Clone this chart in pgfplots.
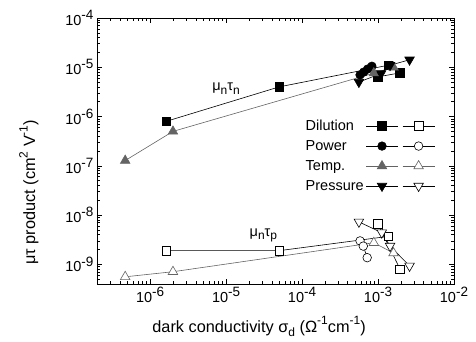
\documentclass[border=0pt]{standalone}
\usepackage{fontspec}
\setmainfont{Liberation Sans}
\usepackage{pgfplots}
\pgfplotsset{compat=1.18}
\definecolor{tgray}{RGB}{100,100,100}
\newcommand{\ff}{\fontsize{14.5}{17}\selectfont}
\newcommand{\tf}{\fontsize{14.5}{17}\selectfont}
\newcommand{\lf}{\fontsize{16.3}{19}\selectfont}
\newcommand{\sups}[1]{\raisebox{0.45em}{\fontsize{12}{13}\selectfont #1}}
\newcommand{\tsups}[1]{\raisebox{0.4em}{\fontsize{13.5}{14}\selectfont #1}}
\newcommand{\subs}[1]{\raisebox{-0.25em}{\fontsize{12}{13}\selectfont #1}}
\begin{document}
\begin{tikzpicture}[font=\ff]
\begin{axis}[
  at={(0,0)}, anchor=south west,
  scale only axis, width=357pt, height=266pt,
  xmode=log, ymode=log,
  xmin=2e-7, xmax=1e-2, ymin=4e-10, ymax=1e-4,
  tick label style={font=\tf},
  label style={font=\lf},
  axis line style={line width=0.8pt},
  major tick length=5pt, minor tick length=3pt,
  every tick/.style={black, line width=0.6pt},
  tick align=inside,
  log number format basis/.code 2 args={10\tsups{\pgfmathprintnumber[assume math mode=true]{#2}}},
  xlabel={dark conductivity σ\subs{d} (Ω\sups{-1}cm\sups{-1})},
  ylabel={μτ product (cm\sups{2} V\sups{-1})},
  xlabel style={at={(axis description cs:0.454,0)}, anchor=north, yshift=-29pt},
  ylabel style={at={(axis description cs:0,0.345)}, anchor=south, yshift=55pt},
  legend columns=2, legend plot pos=right, legend cell align=left,
  legend style={at={(rel axis cs:0.57,0.633)}, anchor=north west, draw=none, fill=none,
     font=\ff, row sep=4.5pt, column sep=0pt},
  legend image code/.code={\draw[mark repeat=2,mark phase=2] plot coordinates {(0pt,0pt)(16pt,0pt)(32pt,0pt)};},
]
% mu_n tau_n (filled)
\addplot[black, line width=0.6pt, mark=square*, mark size=4.3pt, mark options={solid, fill=black}, forget plot] coordinates {
(1.63e-6,8.0e-7) (5e-5,4.0e-6) (1.36e-3,1.1e-5) (1.0e-3,6.4e-6) (1.95e-3,7.7e-6)};
\addplot[black, line width=0.6pt, mark=*, mark size=4.3pt, mark options={solid, fill=black}, forget plot] coordinates {
(5.8e-4,7.0e-6) (6.5e-4,8.0e-6) (7.3e-4,9.2e-6) (8.3e-4,1.05e-5)};
\addplot[tgray, line width=0.6pt, mark=triangle*, mark size=5.5pt, mark options={solid, fill=tgray, draw=tgray}, forget plot] coordinates {
(4.7e-7,1.28e-7) (2.0e-6,5.0e-7) (8.8e-4,7.6e-6) (1.6e-3,1.0e-5)};
\addplot[black, line width=0.6pt, mark=triangle*, mark size=5.5pt, mark options={solid, fill=black, rotate=180}, forget plot] coordinates {
(5.6e-4,5.0e-6) (1.1e-3,7.5e-6) (1.44e-3,1.1e-5) (2.6e-3,1.42e-5)};
% mu_n tau_p (open)
\addplot[black, line width=0.6pt, mark=square*, mark size=4.3pt, mark options={solid, fill=white}, forget plot] coordinates {
(1.63e-6,1.9e-9) (5e-5,1.9e-9) (1.36e-3,3.7e-9) (1.0e-3,6.6e-9) (1.95e-3,8.0e-10)};
\addplot[black, line width=0.6pt, mark=*, mark size=4.3pt, mark options={solid, fill=white}, forget plot] coordinates {
(5.8e-4,3.0e-9) (6.4e-4,2.35e-9) (7.2e-4,1.37e-9)};
\addplot[tgray, line width=0.6pt, mark=triangle*, mark size=5.5pt, mark options={solid, fill=white, draw=tgray}, forget plot] coordinates {
(4.7e-7,5.6e-10) (2.0e-6,7.1e-10) (8.8e-4,2.75e-9) (1.6e-3,1.7e-9)};
\addplot[black, line width=0.6pt, mark=triangle*, mark size=5.5pt, mark options={solid, fill=white, rotate=180}, forget plot] coordinates {
(5.6e-4,7.3e-9) (1.12e-3,4.4e-9) (1.44e-3,2.36e-9) (2.6e-3,9.3e-10)};
% legend
\addlegendimage{black, line width=0.6pt, mark=square*, mark size=4.3pt, mark options={fill=black}}
\addlegendentry{Dilution\hspace{10pt}}
\addlegendimage{black, line width=0.6pt, mark=square*, mark size=4.3pt, mark options={fill=white}}
\addlegendentry{}
\addlegendimage{black, line width=0.6pt, mark=*, mark size=4.3pt, mark options={fill=black}}
\addlegendentry{Power\hspace{10pt}}
\addlegendimage{black, line width=0.6pt, mark=*, mark size=4.3pt, mark options={fill=white}}
\addlegendentry{}
\addlegendimage{tgray, line width=0.6pt, mark=triangle*, mark size=5.5pt, mark options={fill=tgray}}
\addlegendentry{Temp.\hspace{10pt}}
\addlegendimage{tgray, line width=0.6pt, mark=triangle*, mark size=5.5pt, mark options={fill=white}}
\addlegendentry{}
\addlegendimage{black, line width=0.6pt, mark=triangle*, mark size=5.5pt, mark options={fill=black, rotate=180}}
\addlegendentry{Pressure\hspace{10pt}}
\addlegendimage{black, line width=0.6pt, mark=triangle*, mark size=5.5pt, mark options={fill=white, rotate=180}}
\addlegendentry{}
\node at (axis cs:1e-5,3.7e-6) {μ\subs{n}τ\subs{n}};
\node at (axis cs:3.1e-5,3.9e-9) {μ\subs{n}τ\subs{p}};
\end{axis}
\pgfresetboundingbox
\useasboundingbox (-97pt,-58pt) rectangle (379pt,284pt);
\end{tikzpicture}
\end{document}
